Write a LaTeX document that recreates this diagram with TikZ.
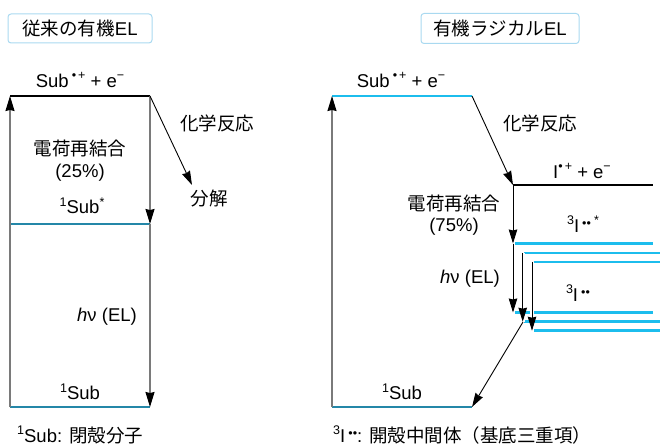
\documentclass[tikz,border=0pt]{standalone}
\usepackage{fontspec}
\setmainfont{Liberation Sans}
\newfontfamily\jp{Noto Sans CJK JP}
\usetikzlibrary{arrows.meta}
\definecolor{cyanlv}{HTML}{1CBDED}
\definecolor{teallv}{HTML}{2487A8}
\definecolor{boxbd}{HTML}{A9D9F0}
\definecolor{vgray}{HTML}{7A7A7A}
\newcommand\sups[1]{\raisebox{0.40em}{\fontsize{12.5}{13}\selectfont #1}}
\newcommand\rdots{\raisebox{0.24em}{\fontsize{12.5}{13}\selectfont ••}}
\tikzset{
  lbl/.style={font=\fontsize{18.5}{22}\selectfont, inner sep=0pt},
  titlebox/.style={lbl, draw=boxbd, line width=1pt, rounded corners=3pt},
  level/.style={line width=2.6pt},
  vline/.style={draw=vgray, line width=1.3pt, -{Stealth[length=15pt,width=9pt,inset=1pt,color=black]}},
  arr/.style={draw=black, line width=0.9pt, -{Stealth[length=14pt,width=8.5pt,inset=1pt]}},
  halo/.style={preaction={draw=white, line width=4pt, -}},
}
\begin{document}
\begin{tikzpicture}[x=1pt,y=-1pt]
\useasboundingbox (0,0) rectangle (660,446);
% ---------- left panel ----------
\node[titlebox, minimum width=144pt, minimum height=29pt] (tl) at (80,28.5) {{\jp 従来の有機}EL};
\coordinate (LT1) at (10,96);  \coordinate (LT2) at (150,96);
\coordinate (LM1) at (10,224); \coordinate (LM2) at (150,224);
\coordinate (LB1) at (10,407); \coordinate (LB2) at (150,407);
\coordinate (LD) at (192,185);
\draw[level, black] (LT1) -- (LT2);
\draw[level, teallv] (LM1) -- (LM2);
\draw[level, teallv] (LB1) -- (LB2);
\draw[vline] (LB1) -- (LT1);
\draw[vline] (LT2) -- (LM2);
\draw[vline] (LM2) -- (LB2);
\draw[arr] (LT2) -- (LD);
\node[lbl] (lsub) at (80,80) {Sub\,\sups{•\,+} + e\sups{−}};
\node[lbl] (lchem) at (217,123) {\jp 化学反応};
\node[lbl] (ldec) at (209,199) {\jp 分解};
\node[lbl] (lrec) at (80,148) {\jp 電荷再結合};
\node[lbl] (lpct) at (80,173) {(25\%)};
\node[lbl] (lsst) at (82,206) {\sups{1}Sub\sups{*}};
\node[lbl] (lhv) at (107,317) {\textit{h}ν (EL)};
\node[lbl] (lgs) at (80,392) {\sups{1}Sub};
\node[lbl, anchor=west] (lnote) at (17,435) {\sups{1}Sub: {\jp 閉殻分子}};
% ---------- right panel ----------
\node[titlebox, minimum width=158pt, minimum height=30pt] (tr) at (500,28.5) {{\jp 有機ラジカル}EL};
\coordinate (RT1) at (332,96);  \coordinate (RT2) at (472,96);
\coordinate (RI1) at (513,185); \coordinate (RI2) at (653,185);
\coordinate (RB1) at (332,407); \coordinate (RB2) at (472,407);
\coordinate (U1a) at (515,243.5); \coordinate (U1b) at (653,243.5);
\coordinate (U2a) at (524,252.8); \coordinate (U2b) at (660,252.8);
\coordinate (U3a) at (533.5,261.8); \coordinate (U3b) at (660,261.8);
\coordinate (D1a) at (515,312.5); \coordinate (D1b) at (653,312.5);
\coordinate (D2a) at (524,321.7); \coordinate (D2b) at (660,321.7);
\coordinate (D3a) at (533.5,330.7); \coordinate (D3b) at (660,330.7);
\coordinate (A1t) at (513,243.5); \coordinate (A1b) at (513,312.5);
\coordinate (A2t) at (522.7,252.8); \coordinate (A2b) at (522.7,321.7);
\coordinate (A3t) at (532,261.8); \coordinate (A3b) at (532,330.7);
\coordinate (DG) at (523,322);
\draw[level, cyanlv] (RT1) -- (RT2);
\draw[level, black, line width=2pt] (RI1) -- (RI2);
\draw[level, cyanlv] (U1a) -- (U1b);
\draw[level, cyanlv] (U2a) -- (U2b);
\draw[level, cyanlv] (U3a) -- (U3b);
\draw[level, cyanlv] (D1a) -- (D1b);
\draw[level, cyanlv] (D2a) -- (D2b);
\draw[level, cyanlv] (D3a) -- (D3b);
\draw[level, teallv] (RB1) -- (RB2);
\draw[vline] (RB1) -- (RT1);
\draw[arr] (RT2) -- (RI1);
\draw[arr] (RI1) -- (A1t);
\draw[arr] (A1t) -- (A1b);
\draw[arr, halo] (A2t) -- (A2b);
\draw[arr, halo] (A3t) -- (A3b);
\draw[arr] (DG) -- (RB2);
\node[lbl] (rsub) at (401,80) {Sub\,\sups{•\,+} + e\sups{−}};
\node[lbl] (rchem) at (540,123) {\jp 化学反応};
\node[lbl] (rion) at (582,171) {I\sups{•\,+} + e\sups{−}};
\node[lbl] (rrec) at (454,203) {\jp 電荷再結合};
\node[lbl] (rpct) at (454,227) {(75\%)};
\node[lbl] (rtst) at (583,224) {\sups{3}I\,\rdots\,\sups{*}};
\node[lbl] (rhv) at (470,279) {\textit{h}ν (EL)};
\node[lbl] (rgst) at (578,293) {\sups{3}I\,\rdots};
\node[lbl] (rgs) at (402,392) {\sups{1}Sub};
\node[lbl, anchor=west] (rnote) at (333,435) {\sups{3}I\,\rdots: {\jp 開殻中間体（基底三重項）}};
\end{tikzpicture}
\end{document}
